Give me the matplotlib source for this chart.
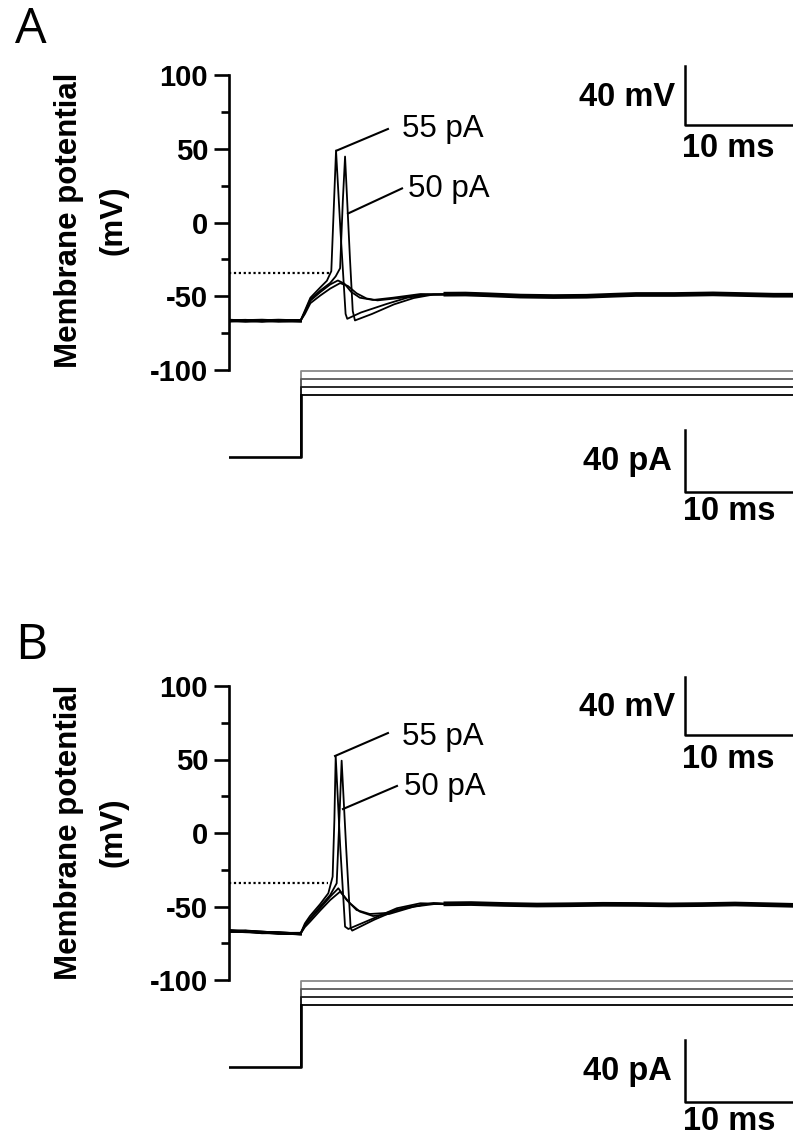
import matplotlib
matplotlib.use("Agg")
import matplotlib.pyplot as plt

plt.rcParams["axes.unicode_minus"] = False

W, H = 793, 1136
BOLD = "Liberation Sans"
PX_PER_MS = 11.0
T_MAX = (W - 229) / PX_PER_MS

# ---- panel A: membrane potential sweeps (t in ms, V in mV) ----
a55_t = [0, 1.5, 3.0, 4.5, 6.5, 6.9, 7.4, 8.3, 8.9, 9.3, 9.5, 9.73, 10.15, 10.6, 10.75, 12.0, 14.3, 16.2, 18.0, 19.5]
a55_v = [-66.2, -66.8, -66.4, -66.9, -66.6, -59.7, -51.0, -44.0, -39.5, -33.0, 5.0, 48.8, -7.7, -62.0, -65.3, -61.0, -55.3, -51.0, -49.0, -48.6]
a50_t = [0, 1.5, 3.0, 4.5, 6.5, 6.9, 7.4, 8.3, 9.2, 9.7, 10.1, 10.35, 10.55, 11.0, 11.25, 11.45, 13.0, 15.0, 16.8, 18.6, 19.5]
a50_v = [-66.6, -66.3, -67.0, -66.5, -66.9, -60.5, -52.0, -46.1, -41.0, -36.5, -31.0, 15.0, 44.7, -25.0, -60.0, -66.4, -62.0, -55.5, -51.2, -48.8, -48.8]
a45_t = [0, 1.5, 3.0, 4.5, 6.5, 6.9, 7.4, 8.3, 9.2, 9.9, 10.5, 11.1, 11.9, 13.1, 14.9, 17.4, 19.5]
a45_v = [-66.9, -66.5, -66.2, -66.7, -66.4, -61.0, -53.0, -47.2, -42.0, -39.3, -41.5, -47.0, -51.0, -52.5, -51.0, -48.5, -48.7]
a40_t = [0, 1.5, 3.0, 4.5, 6.5, 6.9, 7.4, 8.3, 9.2, 10.1, 10.8, 11.6, 12.5, 13.5, 15.5, 17.5, 19.5]
a40_v = [-66.4, -66.9, -66.6, -66.2, -66.7, -62.0, -54.7, -49.5, -44.8, -41.1, -43.0, -48.0, -51.5, -52.8, -51.2, -49.0, -48.9]
a_tail_t = [19.5, 21.5, 23.5, 26.5, 29.5, 32.5, 35.0, 37.0, 40.5, 44.0, 46.5, 49.5, 51.3]
a_tail_v = [-48.6, -48.5, -49.0, -49.9, -50.2, -50.0, -49.3, -48.8, -48.8, -48.4, -48.8, -49.3, -49.3]

# ---- panel B ----
b55_t = [0, 1.5, 3.0, 4.5, 6.5, 6.9, 7.36, 8.27, 9.03, 9.42, 9.58, 9.7, 10.1, 10.55, 10.85, 13.0, 15.25, 17.4, 19.5]
b55_v = [-66.6, -67.2, -67.6, -68.1, -68.5, -61.5, -56.5, -48.5, -41.0, -29.7, 8.8, 52.4, -8.0, -63.7, -65.3, -58.5, -51.2, -47.8, -48.2]
b50_t = [0, 1.5, 3.0, 4.5, 6.5, 6.9, 7.36, 8.27, 9.2, 9.79, 10.03, 10.24, 10.65, 11.06, 11.2, 13.2, 15.25, 18.0, 19.5]
b50_v = [-66.9, -66.8, -67.9, -67.8, -68.8, -62.5, -58.1, -50.1, -42.2, -34.2, 8.8, 49.2, -10.0, -64.8, -66.4, -59.0, -52.4, -48.3, -48.4]
b45_t = [0, 1.5, 3.0, 4.5, 6.5, 6.9, 7.36, 8.27, 9.2, 9.94, 10.7, 11.6, 12.8, 14.3, 16.15, 18.6, 19.5]
b45_v = [-66.3, -67.0, -67.3, -68.3, -68.2, -63.0, -58.8, -51.3, -43.3, -37.6, -45.6, -52.4, -55.1, -54.4, -50.6, -47.6, -48.0]
b40_t = [0, 1.5, 3.0, 4.5, 6.5, 6.9, 7.36, 8.27, 9.2, 10.1, 11.0, 11.9, 13.1, 14.6, 16.8, 18.9, 19.5]
b40_v = [-67.0, -66.6, -67.5, -67.9, -68.6, -64.0, -60.4, -52.9, -45.6, -39.9, -47.8, -53.5, -56.5, -55.0, -50.1, -48.1, -48.2]
b_tail_t = [19.5, 22.0, 25.0, 28.0, 31.0, 34.0, 37.0, 40.0, 43.0, 46.0, 49.0, 51.3]
b_tail_v = [-48.2, -48.0, -48.6, -49.0, -48.8, -48.5, -48.6, -48.9, -48.7, -48.3, -48.8, -49.2]

# injected current steps (pA), onset in ms
step_amps = [55, 50, 45, 40]
step_colors = ["#8a8a8a", "#5a5a5a", "#1a1a1a", "#000000"]
step_on = 6.5
N_BASE = 5  # samples before the step in each sweep

thresh = {"A": -34.4, "B": -34.0}
thresh_end = {"A": 9.2, "B": 9.0}

# leader lines: label, (t0, v0), (t1, v1), text anchor
leaders = {
    "A": [("55 pA", (9.8, 48.8), (14.45, 63.4), (15.73, 58.3)),
          ("50 pA", (10.82, 6.1), (15.73, 23.1), (16.27, 17.6))],
    "B": [("55 pA", (9.64, 52.4), (14.45, 68.0), (15.73, 59.9)),
          ("50 pA", (10.36, 16.3), (15.27, 32.0), (15.9, 25.9))],
}

panels = {
    "A": dict(sweeps=[(a55_t, a55_v), (a50_t, a50_v), (a45_t, a45_v), (a40_t, a40_v)],
              tail=(a_tail_t, a_tail_v), v_box=(75, 370), i_base=457, letter_y=30,
              label_y=220),
    "B": dict(sweeps=[(b55_t, b55_v), (b50_t, b50_v), (b45_t, b45_v), (b40_t, b40_v)],
              tail=(b_tail_t, b_tail_v), v_box=(686, 980), i_base=1067, letter_y=646,
              label_y=832),
}

I_SCALE = 1.56  # px per pA


def px_ax(fig, x0, y0, x1, y1):
    ax = fig.add_axes([x0 / W, 1 - y1 / H, (x1 - x0) / W, (y1 - y0) / H])
    ax.set_facecolor("none")
    return ax


fig = plt.figure(figsize=(W / 100, H / 100), dpi=100)

for name, p in panels.items():
    top, bot = p["v_box"]
    ax = px_ax(fig, 229, top, W, bot)
    ax.set_xlim(0, T_MAX)
    ax.set_ylim(-100, 100)
    for s in ["top", "right", "bottom"]:
        ax.spines[s].set_visible(False)
    ax.spines["left"].set_linewidth(1.9)
    ax.xaxis.set_visible(False)
    ax.set_yticks([-100, -50, 0, 50, 100])
    ax.set_yticklabels(["-100", "-50", "0", "50", "100"])
    ax.set_yticks([-75, -25, 25, 75], minor=True)
    ax.tick_params(axis="y", which="major", direction="out", length=11, width=1.9,
                   pad=4, labelsize=21)
    ax.tick_params(axis="y", which="minor", direction="out", length=6, width=1.9)
    for lab in ax.get_yticklabels():
        lab.set_fontfamily(BOLD)
        lab.set_fontweight("bold")

    # threshold
    ax.plot([0, thresh_end[name]], [thresh[name]] * 2, color="black", lw=1.6,
            ls=(0, (1, 1.2)))
    # sweeps: noisy baseline drawn heavier, then the response
    for t, v in p["sweeps"]:
        ax.plot(t[:N_BASE], v[:N_BASE], color="black", lw=2.0)
        ax.plot(t, v, color="black", lw=1.3)
    ax.plot(*p["tail"], color="black", lw=3.4, solid_capstyle="butt")

    for txt, (t0, v0), (t1, v1), (tx, ty) in leaders[name]:
        ax.plot([t0, t1], [v0, v1], color="black", lw=1.5)
        ax.text(tx, ty, txt, fontsize=22.5, family=BOLD, ha="left", va="baseline")

    # voltage scale bar
    ax.plot([41.45, 41.45, 51.45], [106.4, 66.4, 66.4], color="black", lw=1.8,
            clip_on=False)
    ax.text(40.55, 79.3, "40 mV", fontsize=23.5, family=BOLD, weight="bold",
            ha="right", va="baseline")
    ax.text(41.2, 44.1, "10 ms", fontsize=23.5, family=BOLD, weight="bold",
            ha="left", va="baseline")

    # current axes
    ib = p["i_base"]
    ax2 = px_ax(fig, 229, ib - 97, W, ib + 73)
    ax2.set_xlim(0, T_MAX)
    ax2.set_ylim(-73 / I_SCALE, 97 / I_SCALE)
    ax2.axis("off")
    for amp, col in zip(step_amps, step_colors):
        ax2.plot([step_on, step_on, T_MAX], [0, amp, amp], color=col, lw=1.3)
    ax2.plot([0, step_on, step_on], [0, 0, 40], color="black", lw=1.9)
    ax2.plot([41.45, 41.45, 51.45], [17.6, -22.4, -22.4], color="black", lw=1.8,
             clip_on=False)
    ax2.text(40.27, -8.3, "40 pA", fontsize=23.5, family=BOLD, weight="bold",
             ha="right", va="baseline")
    ax2.text(41.27, -40.4, "10 ms", fontsize=23.5, family=BOLD, weight="bold",
             ha="left", va="baseline")

    # y label and panel letter
    ly = 1 - p["label_y"] / H
    fig.text(69 / W, ly, "Membrane potential", rotation=90, fontsize=22.5,
             family=BOLD, weight="bold", ha="center", va="center")
    fig.text(113 / W, ly, "(mV)", rotation=90, fontsize=22.5,
             family=BOLD, weight="bold", ha="center", va="center")
    fig.text(31 / W, 1 - p["letter_y"] / H, name, fontsize=36, family="Open Sans",
             ha="center", va="center")

fig.savefig("out.png", dpi=100)
